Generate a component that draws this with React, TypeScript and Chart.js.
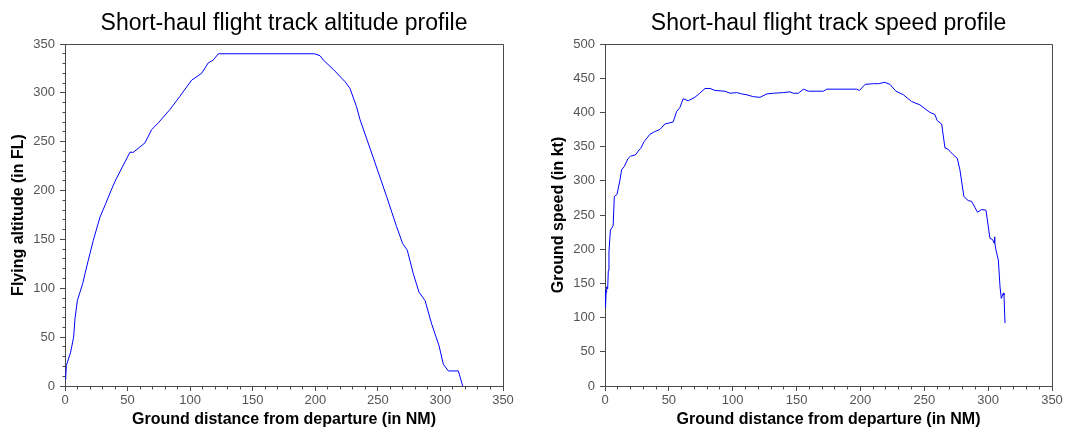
import React, { useEffect, useRef } from 'react';
import { Chart, registerables } from 'chart.js';

Chart.register(...registerables);

// ---------- data ----------
const distAlt = [0, 0.5, 1.1, 4.5, 6.9, 8, 9.9, 12, 14.1, 16, 18.6, 22.6, 28, 32, 36.8, 40, 51.9, 54.6, 63.9, 69.3, 74.6, 83.9, 91.9, 101.2, 109.2, 114.5, 118.5, 122.5, 199.5, 203.8, 206.4, 214.4, 223.8, 227.7, 233, 235.7, 246.4, 257, 265, 269.8, 273.5, 278.3, 282.9, 287.7, 293, 298.9, 302.3, 306.3, 314.3, 317.8];
const altitudeFL = [8, 7.4, 21, 34.6, 50, 68.9, 87.6, 96.1, 104.7, 115, 128.6, 149, 173, 185, 200, 209.6, 239.2, 239.2, 248.8, 262.5, 269.3, 283, 296.6, 313, 320, 330.7, 333.6, 340, 340, 338, 333.6, 324, 311.4, 304.6, 285.7, 272.8, 233.4, 193.9, 163, 145.8, 139, 115, 96, 87.5, 63.5, 41.2, 22.3, 15.4, 15.4, 0];

const distSpeed = [0.2, 0.3, 0.4, 0.5, 0.6, 0.8, 1.3, 2.1, 2.6, 3.1, 4.2, 5.7, 6.4, 7.3, 9.4, 11.7, 13, 15.1, 18.2, 20, 24, 26.6, 27.9, 30.5, 35.2, 39, 43, 46.9, 53.4, 56, 58.6, 61.2, 65.1, 70.3, 74.2, 78.3, 82.2, 86.2, 94, 97.9, 103.1, 107, 110.4, 116.2, 121.4, 126.6, 131.9, 139.7, 144.9, 147.5, 151.4, 155.4, 159.3, 171, 173.6, 197.1, 199.2, 203.7, 210.2, 214.1, 219, 223.1, 227.8, 233.5, 240, 246.6, 254.4, 258.3, 260.1, 263.6, 266.2, 268.8, 270.1, 272.7, 275.8, 277.9, 281, 284.4, 287, 291.7, 294.9, 298.3, 301.4, 303.5, 304.6, 305, 305.3, 306.1, 308, 309.3, 310.3, 311.9, 312.4, 313.2];
const speedKt = [118, 138, 115, 140, 120, 137, 145, 142, 169, 196, 228, 232, 235, 277, 280, 301, 316, 321, 333, 336, 338, 345, 347, 357, 368, 372, 375, 383, 386, 401, 407, 420, 417, 422, 428, 435, 435, 432, 431, 428, 429, 427, 426, 423, 422, 427, 428, 429, 430, 428, 428, 434, 431, 431, 434, 434, 432, 441, 442, 442, 444, 441, 431, 426, 416, 411, 400, 397, 388, 383, 348, 346, 343, 338, 333, 316, 277, 271, 270, 254, 258, 257, 216, 214, 209, 218, 210, 199, 184, 145, 128, 136, 133, 92];

const distTicks = [0, 50, 100, 150, 200, 250, 300, 350];
const altTicks = [0, 50, 100, 150, 200, 250, 300, 350];
const speedTicks = [0, 50, 100, 150, 200, 250, 300, 350, 400, 450, 500];

const altTitle = 'Short-haul flight track altitude profile';
const speedTitle = 'Short-haul flight track speed profile';
const xLabel = 'Ground distance from departure (in NM)';
const altLabel = 'Flying altitude (in FL)';
const speedLabel = 'Ground speed (in kt)';

// ---------- styles ----------
const FONT = "'Liberation Sans', Arial, Helvetica, sans-serif";
const AXIS = '#4a4a4a';
const TICK = '#555555';
const LINE = 'rgb(0,0,255)';

const align = (p: number) => Math.round(p - 0.5) + 0.5;

// Title centred over the plot area, frame (top/right) and minor ticks
const framePlugin = {
  id: 'frameMinor',
  afterDraw(chart: any, _args: any, opts: any) {
    const { ctx, chartArea: a, scales } = chart;
    ctx.save();
    if (opts.title) {
      ctx.fillStyle = '#000';
      ctx.font = `normal 23px ${FONT}`;
      ctx.textAlign = 'center';
      ctx.textBaseline = 'middle';
      ctx.fillText(opts.title, (a.left + a.right) / 2, 23.5);
    }
    ctx.strokeStyle = AXIS;
    ctx.lineWidth = 1;
    ctx.beginPath();
    const top = align(a.top);
    const right = align(a.right);
    const left = align(a.left);
    const bottom = align(a.bottom);
    ctx.moveTo(left, top);
    ctx.lineTo(right, top);
    ctx.lineTo(right, bottom);
    const xs = scales.x;
    if (opts.xStep) {
      for (let v = opts.xStep; v < xs.max; v += opts.xStep) {
        if (v % 50 === 0) continue;
        const px = align(xs.getPixelForValue(v));
        ctx.moveTo(px, bottom);
        ctx.lineTo(px, bottom + 3);
      }
    }
    const ys = scales.y;
    if (opts.yStep) {
      for (let v = opts.yStep; v < ys.max; v += opts.yStep) {
        if (v % 50 === 0) continue;
        const py = align(ys.getPixelForValue(v));
        ctx.moveTo(left, py);
        ctx.lineTo(left - 3, py);
      }
    }
    ctx.stroke();
    ctx.restore();
  },
};

function buildConfig(xs: number[], ys: number[], title: string, yTitle: string, yMax: number, yTicks: number[], yMinor: number, rightPad: number) {
  const points = xs.map((x, i) => ({ x, y: ys[i] }));
  return {
    type: 'scatter',
    data: {
      datasets: [
        {
          label: title,
          data: points,
          showLine: true,
          borderColor: LINE,
          backgroundColor: LINE,
          borderWidth: 1,
          pointRadius: 0,
          tension: 0,
          fill: false,
        },
      ],
    },
    options: {
      animation: false,
      responsive: false,
      devicePixelRatio: 1,
      layout: { padding: { left: 0, right: rightPad, top: 44, bottom: 0 } },
      plugins: {
        legend: { display: false },
        tooltip: { enabled: false },
        title: { display: false, text: title },
        frameMinor: { xStep: 10, yStep: yMinor, title },
      },
      scales: {
        x: {
          type: 'linear',
          min: 0,
          max: 350,
          afterBuildTicks: (s: any) => {
            s.ticks = distTicks.map((v) => ({ value: v }));
          },
          afterFit: (s: any) => {
            s.height = 42;
          },
          grid: { drawOnChartArea: false, drawTicks: true, tickLength: 5, color: AXIS },
          border: { display: true, color: AXIS, width: 1 },
          ticks: { color: TICK, font: { family: FONT, size: 13 }, padding: 2, maxRotation: 0, autoSkip: false },
          title: {
            display: true,
            text: xLabel,
            color: '#000',
            font: { family: FONT, size: 16, weight: 'bold', lineHeight: 1 },
            padding: { top: 0, bottom: 0 },
          },
        },
        y: {
          type: 'linear',
          min: 0,
          max: yMax,
          afterBuildTicks: (s: any) => {
            s.ticks = yTicks.map((v) => ({ value: v }));
          },
          afterFit: (s: any) => {
            s.width = 65;
          },
          grid: { drawOnChartArea: false, drawTicks: true, tickLength: 5, color: AXIS },
          border: { display: true, color: AXIS, width: 1 },
          ticks: { color: TICK, font: { family: FONT, size: 13 }, padding: 5, autoSkip: false },
          title: {
            display: true,
            text: yTitle,
            color: '#000',
            font: { family: FONT, size: 16, weight: 'bold', lineHeight: 1.2 },
            padding: { top: 9, bottom: 0 },
          },
        },
      },
    },
    plugins: [framePlugin],
  };
}

function Panel({ left, width, config }: { left: number; width: number; config: any }) {
  const ref = useRef<HTMLCanvasElement | null>(null);
  useEffect(() => {
    if (!ref.current) return;
    const chart = new Chart(ref.current, config);
    return () => chart.destroy();
  }, [config]);
  return (
    <canvas
      ref={ref}
      width={width}
      height={428}
      style={{ position: 'absolute', left, top: 0, width, height: 428, display: 'block' }}
    />
  );
}

const altConfig = buildConfig(distAlt, altitudeFL, altTitle, altLabel, 350, altTicks, 10, 37);
const speedConfig = buildConfig(distSpeed, speedKt, speedTitle, speedLabel, 500, speedTicks, 0, 17);

export default function App() {
  return (
    <div style={{ position: 'absolute', left: 0, top: 0, width: 1069, height: 428, background: '#fff', overflow: 'hidden' }}>
      <Panel left={0} width={540} config={altConfig} />
      <Panel left={540} width={529} config={speedConfig} />
    </div>
  );
}
